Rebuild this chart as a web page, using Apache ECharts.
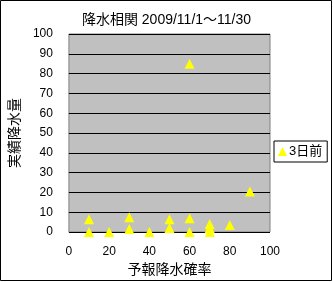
<!DOCTYPE html>
<html><head><meta charset="utf-8">
<script src="https://cdn.jsdelivr.net/npm/echarts@6/dist/echarts.min.js"></script>
<style>html,body{margin:0;padding:0;background:#fff}#c{width:333px;height:282px}</style>
</head><body><div id="c"></div>
<script>
var titleText = '降水相関 2009/11/1～11/30';
var seriesName = '3日前';
var xName = '予報降水確率';
var yName = '実績降水量';
var forecastProb = [10, 10, 20, 30, 30, 40, 50, 50, 60, 60, 60, 70, 70, 70, 80, 90];
var actualRain   = [6.5, 0, 0, 7.5, 1.5, 0, 6.5, 2, 7, 0, 85, 4, 2, 0, 3.5, 20.5];

var pts = forecastProb.map(function(x, i){ return [x, actualRain[i]]; });
var font = '"Liberation Sans", "Noto Sans CJK JP", sans-serif';
var chart = echarts.init(document.getElementById('c'), null, {renderer:'canvas'});
chart.setOption({
  animation: false,
  backgroundColor: '#fff',
  graphic: [{type:'rect', shape:{x:0.5,y:0.5,width:331,height:280}, style:{fill:'none', stroke:'#000', lineWidth:1}}],
  title: {text: titleText, left: 'center', top: 8, textStyle:{fontFamily:font, fontSize:14, fontWeight:'normal', color:'#000'}},
  grid: {left: 64, right: 63, top: 34, bottom: 50, show: true, backgroundColor:'#c0c0c0', borderColor:'#808080', borderWidth:1},
  legend: {
    data: [{name: seriesName, icon: 'triangle'}],
    left: 274, top: 141, itemWidth: 9, itemHeight: 9, itemGap: 2,
    padding: [4, 5, 4, 4], borderColor:'#000', borderWidth:1,
    textStyle:{fontFamily:font, fontSize:13, color:'#000', padding:[0,0,0,-3]}
  },
  xAxis: {
    type:'value', min:0, max:100, interval:20,
    name: xName, nameLocation:'middle', nameGap: 28,
    nameTextStyle:{fontFamily:font, fontSize:14, color:'#000'},
    axisLine:{show:false}, axisTick:{show:false}, splitLine:{show:false},
    axisLabel:{fontFamily:font, fontSize:12, color:'#000', margin:14}
  },
  yAxis: {
    type:'value', min:0, max:100, interval:10,
    name: yName, nameLocation:'middle', nameGap: 31, nameRotate: 90,
    nameTextStyle:{fontFamily:font, fontSize:14, color:'#000'},
    axisLine:{show:false}, axisTick:{show:false},
    splitLine:{show:true, lineStyle:{color:'#000', width:1}},
    axisLabel:{fontFamily:font, fontSize:12, color:'#000', margin:16}
  },
  series: [{
    name: seriesName, type:'scatter', data: pts,
    symbol:'triangle', symbolSize: 10,
    itemStyle:{color:'#ffff00', opacity:1}
  }]
});
</script></body></html>
